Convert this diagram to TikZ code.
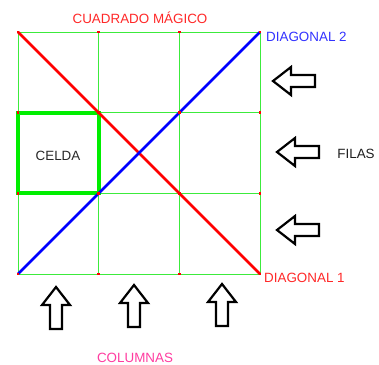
\documentclass[tikz,border=0pt]{standalone}
\usepackage{fontspec}
\setmainfont{Liberation Sans}
\usetikzlibrary{positioning, calc}

\begin{document}
\begin{tikzpicture}[x=1pt, y=-1pt, font=\fontsize{13.4}{15}\selectfont]
  \tikzstyle{gridline}=[draw={rgb,255:red,60;green,235;blue,60}, line width=0.9pt]
  \tikzstyle{cellbox}=[draw={rgb,255:red,0;green,238;blue,0}, line width=4.2pt]
  \tikzstyle{diagred}=[draw=red, line width=2.6pt]
  \tikzstyle{diagblue}=[draw=blue, line width=2.6pt]
  \tikzstyle{lbl}=[inner sep=0pt, anchor=base]
  \tikzset{hollowarrow/.pic={
    \draw[line width=2.2pt, line join=miter, fill=white]
      (0,0) -- (18,-14) -- (18,-6) -- (42,-6) -- (42,6) -- (18,6) -- (18,14) -- cycle;}}

  \useasboundingbox (0,0) rectangle (379,364);

  % grid points
  \foreach \i in {0,...,3}
    \foreach \j in {0,...,3}
      \coordinate (g\i\j) at ({18+80.67*\i},{32+80.67*\j});

  % grid
  \foreach \k in {0,...,3} {
    \draw[gridline] (g\k0) -- (g\k3);
    \draw[gridline] (g0\k) -- (g3\k);
  }

  % cell
  \draw[cellbox] (g01) rectangle (g12);

  % diagonals
  \draw[diagred] (g00) -- (g33);
  \draw[diagblue] (g03) -- (g30);

  % dots
  \foreach \i in {0,...,3}
    \foreach \j in {0,...,3}
      \fill[red] ($(g\i\j)+(-1.4,-1.4)$) rectangle ($(g\i\j)+(1.4,1.4)$);

  % rows
  \coordinate (row1) at (273,81);
  \coordinate (row2) at (277,152);
  \coordinate (row3) at (277,230);
  \pic at (row1) {hollowarrow};
  \pic at (row2) {hollowarrow};
  \pic at (row3) {hollowarrow};

  % columns
  \coordinate (col1) at (56,287);
  \coordinate (col2) at (134,285);
  \coordinate (col3) at (222,284);
  \pic[rotate=-90] at (col1) {hollowarrow};
  \pic[rotate=-90] at (col2) {hollowarrow};
  \pic[rotate=-90] at (col3) {hollowarrow};

  % labels
  \node[lbl, text={rgb,255:red,255;green,40;blue,40}] (title) at (140,23) {CUADRADO MÁGICO};
  \node[lbl, anchor=base west, text={rgb,255:red,50;green,50;blue,255}] (diag2) at (266,41) {DIAGONAL 2};
  \node[lbl, anchor=base west, text={rgb,255:red,255;green,40;blue,40}] (diag1) at (264,282) {DIAGONAL 1};
  \node[lbl, text={rgb,255:red,30;green,30;blue,30}] (filas) at (356,158) {FILAS};
  \node[lbl, text={rgb,255:red,40;green,40;blue,40}] (celda) at (58,160) {CELDA};
  \node[lbl, text={rgb,255:red,255;green,60;blue,160}] (columnas) at (135,362) {COLUMNAS};
\end{tikzpicture}
\end{document}
